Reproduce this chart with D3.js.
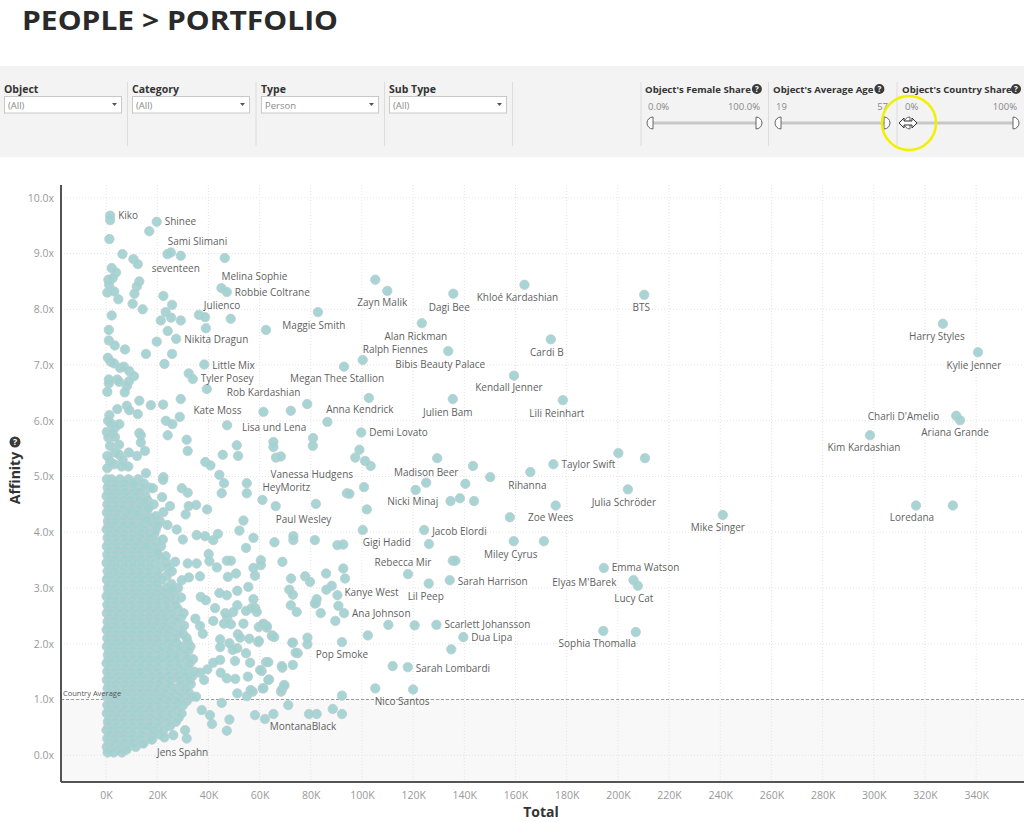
<!DOCTYPE html>
<html>
<head>
<meta charset="utf-8">
<script src="https://cdn.jsdelivr.net/npm/d3@7"></script>
<style>
  body { margin: 0; background: #fff; }
  text { font-family: "Segoe UI", "Open Sans", "DejaVu Sans", sans-serif; }
</style>
</head>
<body>
<svg width="1024" height="822"></svg>
<script>
const svg = d3.select("svg");
const width = +svg.attr("width");

// ---- data ----
const pageTitle = "PEOPLE > PORTFOLIO";
const slicerTitles = ["Object", "Category", "Type", "Sub Type"];
const slicerValues = ["(All)", "(All)", "Person", "(All)"];
const rangeTitles = ["Object's Female Share", "Object's Average Age", "Object's Country Share"];
const rangeMin = ["0.0%", "19", "0%"];
const rangeMax = ["100.0%", "57", "100%"];

const xTicks = d3.range(0, 341, 20);          // Total, in K
const yTicks = d3.range(0, 11, 1);            // Affinity
const countryAverage = 1.0;

// labelled people: [name, total (K), affinity]
const labeled = [
  ["Kiko", 1.6, 9.68], ["Shinee", 19.8, 9.57], ["Sami Slimani", 25.3, 9.02], ["seventeen", 29.2, 8.96],
  ["Melina Sophie", 45.1, 8.38], ["Robbie Coltrane", 47.2, 8.31], ["Julienco", 38.7, 7.86],
  ["Maggie Smith", 82.8, 7.95], ["Nikita Dragun", 27.4, 7.47], ["Little Mix", 38.4, 7.01],
  ["Tyler Posey", 33.9, 6.75], ["Rob Kardashian", 39.4, 6.57], ["Kate Moss", 61.5, 6.16],
  ["Lisa und Lena", 47.3, 5.92], ["Zayn Malik", 109.9, 8.33], ["Dagi Bee", 135.7, 8.28],
  ["Khloé Kardashian", 163.5, 8.44], ["Alan Rickman", 123.4, 7.75], ["Cardi B", 173.8, 7.46],
  ["Ralph Fiennes", 100.3, 7.09], ["Bibis Beauty Palace", 133.7, 7.25], ["Megan Thee Stallion", 93.0, 6.97],
  ["Kendall Jenner", 159.4, 6.81], ["Julien Bam", 135.5, 6.39], ["Anna Kendrick", 102.7, 6.41],
  ["Lili Reinhart", 178.5, 6.37], ["Demi Lovato", 99.7, 5.79], ["Taylor Swift", 174.8, 5.22],
  ["BTS", 210.3, 8.26], ["Harry Styles", 327.0, 7.74], ["Kylie Jenner", 340.7, 7.23],
  ["Charli D'Amelio", 332.2, 6.09], ["Ariana Grande", 333.7, 6.01], ["Kim Kardashian", 298.5, 5.74],
  ["Vanessa Hudgens", 80.8, 5.55], ["HeyMoritz", 61.1, 4.58], ["Paul Wesley", 66.3, 4.47],
  ["Madison Beer", 125.1, 4.89], ["Nicki Minaj", 121.0, 4.76], ["Rihanna", 165.8, 5.08],
  ["Julia Schröder", 203.9, 4.77], ["Zoe Wees", 175.7, 4.48], ["Jacob Elordi", 124.3, 4.04],
  ["Gigi Hadid", 100.3, 4.04], ["Miley Cyrus", 159.3, 3.84], ["Rebecca Mir", 118.0, 3.25],
  ["Emma Watson", 194.5, 3.36], ["Elyas M'Barek", 206.1, 3.14], ["Lucy Cat", 207.8, 3.04],
  ["Sarah Harrison", 134.3, 3.14], ["Lil Peep", 126.1, 3.08], ["Kanye West", 86.1, 2.97],
  ["Ana Johnson", 93.0, 2.55], ["Scarlett Johansson", 129.1, 2.34], ["Dua Lipa", 139.6, 2.12],
  ["Mike Singer", 241.0, 4.31], ["Loredana", 316.5, 4.48], ["Sophia Thomalla", 194.3, 2.23],
  ["Pop Smoke", 92.2, 2.03], ["Sarah Lombardi", 117.9, 1.58], ["Nico Santos", 120.0, 1.18],
  ["MontanaBlack", 79.3, 0.74], ["Jens Spahn", 31.5, 0.30]
];

// other people: [total (K), affinity]
const others = [
  [1.6, 9.60], [1.3, 9.26], [16.9, 9.40], [6.4, 8.99], [10.7, 8.90], [12.4, 8.81], [2.2, 8.74], [3.9, 8.66],
  [0.9, 8.53], [2.6, 8.56], [1.2, 8.44], [13.0, 8.50], [12.0, 8.41], [0.5, 8.30], [3.2, 8.32], [11.1, 8.28],
  [4.8, 8.18], [10.4, 8.10], [14.3, 8.00], [22.4, 8.24], [25.8, 8.08], [23.3, 7.95], [21.4, 7.80], [25.4, 7.85],
  [29.2, 7.80], [36.3, 7.90], [48.7, 7.83], [39.0, 7.66], [24.0, 8.99], [46.4, 8.92], [2.2, 7.89], [1.1, 7.63],
  [24.1, 7.61], [19.8, 7.42], [1.1, 7.44], [3.4, 7.35], [7.4, 7.28], [15.6, 7.20], [25.8, 7.20], [22.8, 7.02],
  [0.7, 7.13], [1.8, 7.06], [3.1, 7.03], [5.5, 6.95], [7.0, 6.97], [9.1, 6.89], [10.9, 6.80], [9.0, 6.71],
  [8.1, 6.62], [1.1, 6.74], [1.1, 6.67], [4.4, 6.74], [5.1, 6.70], [0.5, 6.52], [7.3, 6.51], [32.3, 6.85],
  [29.2, 6.39], [22.3, 6.29], [17.5, 6.28], [13.0, 6.36], [8.1, 6.27], [9.1, 6.19], [12.4, 6.12], [4.4, 6.21],
  [1.3, 6.10], [0.8, 6.00], [2.0, 5.95], [5.2, 5.94], [3.5, 5.88], [0.3, 5.80], [2.5, 5.78], [0.9, 5.70],
  [3.5, 5.71], [23.4, 6.00], [25.9, 5.94], [28.8, 6.07], [24.1, 5.74], [13.0, 5.78], [13.6, 5.74], [13.6, 5.61],
  [5.1, 5.57], [1.6, 5.55], [0.5, 5.37], [3.5, 5.43], [5.2, 5.39], [8.9, 5.43], [12.1, 5.37], [15.2, 5.46],
  [1.6, 5.27], [3.2, 5.22], [6.5, 5.30], [6.1, 5.18], [8.7, 5.18], [0.5, 5.15], [31.5, 5.66], [31.9, 5.46],
  [38.8, 5.26], [40.8, 5.20], [44.3, 5.03], [15.6, 5.06], [22.4, 4.99], [45.6, 5.39], [51.1, 5.56], [51.6, 5.37],
  [62.5, 7.63], [105.2, 8.53], [72.2, 6.18], [78.6, 6.30], [86.5, 5.98], [65.4, 5.62], [65.4, 5.53], [66.4, 5.34],
  [68.3, 5.36], [80.9, 5.69], [99.0, 5.48], [97.4, 5.34], [101.2, 5.28], [103.4, 5.19], [129.4, 5.33],
  [143.4, 5.19], [200.2, 5.42], [210.6, 5.33], [94.1, 4.70], [95.1, 4.69], [100.8, 4.81], [82.0, 4.51],
  [101.9, 4.41], [134.6, 4.56], [138.3, 4.61], [143.8, 4.56], [140.4, 4.87], [150.1, 4.99], [157.8, 4.27],
  [126.2, 3.79], [171.1, 3.84], [90.4, 3.77], [92.7, 3.78], [81.6, 3.86], [73.2, 3.86], [65.8, 3.82],
  [57.6, 3.90], [135.5, 3.49], [136.5, 3.49], [90.4, 2.87], [110.3, 2.34], [120.6, 2.33], [207.0, 2.21],
  [134.9, 1.90], [112.0, 1.60], [105.2, 1.20], [82.3, 0.74], [88.6, 0.83], [92.2, 0.74], [65.4, 0.74],
  [62.1, 0.65], [58.2, 0.72], [71.2, 0.90], [92.2, 1.07], [330.9, 4.48],
  [72.2, 2.69], [74.5, 2.57], [82.0, 2.73], [83.9, 2.55], [90.8, 2.68], [89.6, 2.41], [102.3, 2.15],
  [59.7, 2.30], [61.5, 2.36], [62.8, 2.29], [64.8, 2.14], [59.5, 2.03], [73.0, 2.02], [78.7, 2.11],
  [78.7, 1.99], [74.9, 1.83], [73.0, 1.62], [68.9, 1.57], [62.5, 1.67], [60.8, 1.51], [63.7, 1.36],
  [69.7, 1.25], [68.4, 1.14], [61.5, 1.20], [57.3, 1.14], [73.2, 3.93], [72.3, 3.17], [77.8, 3.21],
  [79.7, 3.11], [86.0, 3.26], [88.2, 3.04], [92.7, 3.35], [93.4, 3.17], [71.6, 2.97], [73.0, 2.88],
  [82.3, 2.80], [81.6, 2.72],
  [10.7, 4.87], [18.3, 4.79], [22.3, 4.94], [29.6, 4.79], [31.9, 4.71], [45.2, 4.70], [46.1, 4.88],
  [55.0, 4.88], [55.0, 4.70], [15.0, 4.55], [21.9, 4.63], [25.0, 4.47], [16.5, 4.43], [9.4, 4.39],
  [12.2, 4.34], [15.9, 4.23], [19.5, 4.29], [22.4, 4.36], [31.1, 4.32], [32.3, 4.47], [35.2, 4.49],
  [39.5, 4.41], [53.7, 4.21], [52.1, 4.03], [43.7, 3.97], [41.9, 3.86], [38.7, 3.93], [35.4, 3.95],
  [30.0, 3.87], [27.6, 4.05], [24.0, 4.13], [22.2, 3.87], [54.7, 3.72], [68.9, 3.47], [60.5, 3.50],
  [60.5, 3.41], [57.6, 3.36], [58.2, 3.22], [50.8, 3.26], [47.6, 3.20], [47.2, 3.49], [48.8, 3.49],
  [43.3, 3.37], [40.1, 3.61], [40.4, 3.48], [35.4, 3.44], [31.9, 3.44], [27.0, 3.47], [23.3, 3.57],
  [19.8, 3.65], [15.9, 3.75], [36.7, 3.21], [32.4, 3.19], [29.6, 3.14], [25.9, 2.99], [29.3, 2.83],
  [37.0, 2.84], [39.0, 2.78], [42.6, 2.64], [41.9, 2.41], [36.7, 2.32], [34.9, 2.45], [37.8, 2.18],
  [44.3, 2.91], [47.2, 2.87], [51.3, 2.95], [55.6, 3.02], [57.6, 2.80], [58.3, 2.64], [58.9, 2.57],
  [56.9, 2.64], [54.7, 2.59], [51.3, 2.69], [49.7, 2.57], [46.6, 2.55], [47.4, 2.48], [46.1, 2.36],
  [48.8, 2.35], [53.7, 2.36], [51.5, 2.17], [52.4, 2.11], [56.0, 2.09], [59.7, 2.05], [61.5, 2.35],
  [62.8, 2.32], [65.0, 2.15], [65.7, 2.12], [72.8, 2.02], [74.1, 1.84], [68.7, 1.60], [63.4, 1.67],
  [60.2, 1.53], [56.3, 1.66], [54.7, 1.83], [50.4, 1.69], [51.3, 1.92], [49.5, 1.89], [48.2, 2.01],
  [44.6, 2.08], [44.6, 1.94], [44.6, 1.71], [41.9, 1.66], [39.6, 1.54], [36.7, 1.48], [38.3, 1.35],
  [44.8, 1.48], [47.2, 1.38], [50.5, 1.37], [55.4, 1.41], [56.5, 1.17], [55.0, 1.06], [61.2, 1.20],
  [63.4, 1.35], [68.7, 1.18], [69.6, 1.26], [51.3, 1.11], [45.2, 0.94], [48.2, 0.64], [47.2, 0.44],
  [41.4, 0.56], [40.6, 0.72], [37.4, 0.81], [35.2, 1.05], [30.9, 0.45], [26.3, 0.36], [22.8, 0.32],
  [17.9, 0.28], [14.6, 0.21]
];

// the dense core near 0K, read row by row: [affinity, totals (K)]
const coreRows = [
  [4.95, [0.3, 2.1, 5.4, 8.8, 12.6]],
  [4.875, [1.2, 3.9, 7.1, 10.6, 14.8]],
  [4.80, [0.6, 3.3, 6.7, 10.1, 13.9, 17.0]],
  [4.725, [1.0, 4.1, 7.3, 10.9, 13.0]],
  [4.65, [0.2, 2.0, 5.2, 8.5, 11.8, 15.4]],
  [4.575, [1.4, 3.8, 7.0, 9.6, 12.9, 16.2]],
  [4.50, [0.5, 3.6, 6.9, 10.4, 13.7, 18.6]],
  [4.425, [1.1, 4.2, 6.6, 9.8, 13.1, 16.4]],
  [4.35, [0.3, 2.2, 5.0, 8.1, 11.5, 14.8]],
  [4.275, [1.3, 4.0, 7.4, 10.7, 14.0, 16.9]],
  [4.20, [0.7, 3.5, 6.6, 9.9, 13.2, 17.9, 21.0]],
  [4.125, [1.0, 3.7, 7.0, 10.3, 13.8, 17.0, 20.1]],
  [4.05, [0.2, 1.9, 5.3, 8.6, 11.9, 15.1, 19.4]],
  [3.975, [1.4, 4.1, 7.2, 10.5, 13.9, 16.8, 18.9]],
  [3.90, [0.6, 3.4, 6.8, 10.2, 13.6, 17.2]],
  [3.825, [1.1, 3.9, 7.5, 9.9, 12.8, 16.1, 19.7]],
  [3.75, [0.3, 2.1, 5.1, 8.4, 11.7, 14.9, 18.3, 21.5]],
  [3.675, [1.3, 4.3, 7.1, 10.6, 13.9, 17.6, 20.0]],
  [3.60, [0.5, 3.7, 6.9, 10.0, 13.3, 16.8, 20.2]],
  [3.525, [1.0, 3.8, 7.2, 10.4, 14.1, 17.2, 21.3]],
  [3.45, [0.2, 2.0, 5.4, 8.7, 12.0, 15.3, 18.7, 23.5]],
  [3.375, [1.4, 4.0, 7.3, 10.5, 13.7, 17.0, 21.4, 24.2]],
  [3.30, [0.6, 3.3, 6.6, 9.8, 13.1, 16.5, 19.9, 25.7]],
  [3.225, [1.1, 4.2, 6.9, 10.3, 13.6, 16.9, 20.3, 23.8]],
  [3.15, [0.3, 2.2, 5.2, 8.5, 11.8, 15.0, 18.4, 21.8]],
  [3.075, [1.3, 3.9, 7.1, 10.6, 13.9, 17.3, 19.8, 25.5]],
  [3.00, [0.7, 3.6, 6.8, 10.1, 13.4, 16.7, 20.1, 23.6, 28.2]],
  [2.925, [1.0, 4.1, 7.4, 10.7, 13.0, 16.2, 19.5, 22.9, 26.4]],
  [2.85, [0.2, 1.9, 5.0, 8.3, 11.6, 14.9, 18.2, 21.6, 25.0]],
  [2.775, [1.4, 3.7, 6.9, 10.2, 13.8, 17.1, 20.4, 23.8, 26.9]],
  [2.70, [0.5, 3.4, 6.7, 10.0, 13.2, 16.6, 19.9, 23.3, 27.1]],
  [2.625, [1.1, 4.0, 7.2, 10.4, 13.6, 17.2, 20.5, 24.1, 28.0]],
  [2.55, [0.3, 2.1, 5.3, 8.6, 11.9, 15.2, 18.5, 21.9, 25.4, 30.3]],
  [2.475, [1.3, 4.2, 7.1, 10.5, 13.9, 16.9, 20.0, 23.1, 26.5, 29.3]],
  [2.40, [0.6, 3.5, 6.9, 10.2, 13.5, 16.8, 20.2, 23.7, 27.5]],
  [2.325, [1.0, 3.8, 7.4, 10.6, 14.0, 17.3, 19.6, 22.6, 26.0, 30.5]],
  [2.25, [0.2, 2.0, 5.1, 8.4, 11.7, 15.0, 18.3, 21.7, 25.2, 29.0]],
  [2.175, [1.4, 4.1, 7.0, 10.3, 13.7, 17.0, 20.5, 24.0, 27.8, 30.1]],
  [2.10, [0.5, 3.3, 6.6, 9.9, 13.3, 16.6, 19.9, 23.4, 26.8, 31.5]],
  [2.025, [1.1, 3.9, 7.3, 10.5, 13.6, 17.1, 20.3, 24.1, 27.4, 31.9]],
  [1.95, [0.3, 2.2, 5.4, 8.7, 12.0, 15.3, 18.6, 22.0, 25.5, 29.2, 33.0]],
  [1.875, [1.3, 4.2, 7.1, 10.4, 14.0, 17.4, 21.3, 24.8, 28.6, 32.2]],
  [1.80, [0.7, 3.6, 6.8, 10.1, 13.4, 16.7, 20.0, 23.5, 27.0, 30.8]],
  [1.725, [1.0, 3.7, 7.2, 10.6, 13.8, 17.0, 20.6, 24.3, 27.7, 31.4, 34.0]],
  [1.65, [0.2, 1.9, 5.2, 8.5, 11.8, 15.1, 18.4, 21.8, 25.3, 28.9, 32.7]],
  [1.575, [1.4, 4.0, 7.3, 10.5, 13.5, 16.9, 20.2, 24.7, 28.1, 32.0]],
  [1.50, [0.5, 3.4, 6.7, 10.0, 13.3, 16.6, 19.9, 23.3, 26.7, 30.4, 34.5]],
  [1.425, [1.1, 4.3, 7.1, 10.2, 13.9, 17.6, 21.1, 24.4, 27.9, 31.3, 33.8]],
  [1.35, [0.3, 2.1, 5.3, 8.6, 11.9, 15.2, 18.5, 21.9, 25.4, 28.8, 32.6]],
  [1.275, [1.3, 3.9, 7.4, 10.6, 14.1, 17.2, 20.7, 24.5, 29.6, 33.1]],
  [1.20, [0.6, 3.5, 6.9, 10.2, 13.5, 16.8, 20.1, 23.6, 27.2, 31.0]],
  [1.125, [1.0, 4.1, 7.0, 10.3, 13.7, 16.4, 19.5, 22.8, 26.3, 29.9, 32.3]],
  [1.05, [0.2, 2.0, 5.1, 8.4, 11.7, 15.0, 18.3, 21.7, 25.1, 28.7, 33.5]],
  [0.975, [1.4, 3.8, 7.2, 10.7, 14.0, 17.3, 20.6, 24.4, 27.9, 31.6]],
  [0.90, [0.5, 3.3, 6.6, 9.9, 13.2, 16.5, 19.8, 23.2, 26.8, 30.1]],
  [0.825, [1.1, 4.0, 7.3, 10.5, 13.8, 17.1, 20.9, 24.3, 27.8]],
  [0.75, [0.3, 2.2, 5.4, 8.7, 12.0, 15.3, 18.6, 22.0, 25.6, 29.5]],
  [0.675, [1.3, 4.2, 7.1, 10.4, 13.6, 17.4, 21.2, 24.6, 28.4]],
  [0.60, [0.7, 3.6, 6.8, 10.1, 13.4, 16.7, 20.0, 23.5, 27.3]],
  [0.525, [1.0, 3.9, 7.4, 10.6, 14.0, 17.0, 20.4, 25.0]],
  [0.45, [0.2, 1.9, 5.2, 8.5, 11.8, 15.1, 18.6, 22.4]],
  [0.375, [1.4, 4.1, 7.0, 10.3, 13.9, 18.1, 20.7]],
  [0.30, [0.5, 3.4, 6.7, 10.0, 13.3, 16.9]],
  [0.225, [1.1, 3.8, 7.2, 10.5, 14.2]],
  [0.15, [0.3, 2.1, 5.3, 8.4, 11.6]],
  [0.10, [1.3, 4.2, 8.0]],
  [0.05, [0.6, 3.0, 6.2]]
];

// label placement: [text-anchor, dx, dy] relative to the dot
const labelPlacement = {
  "Kiko": ["start", 8, 0], "Shinee": ["start", 8, 0], "Sami Slimani": ["start", -3, -11],
  "seventeen": ["middle", -5, 13], "Melina Sophie": ["start", 0, -12], "Robbie Coltrane": ["start", 8, 0],
  "Julienco": ["middle", 17, -12], "Maggie Smith": ["middle", -4, 13], "Nikita Dragun": ["start", 8, 1],
  "Little Mix": ["start", 8, 1], "Tyler Posey": ["start", 8, 0], "Rob Kardashian": ["start", 20, 3],
  "Kate Moss": ["end", -22, -1], "Lisa und Lena": ["start", 15, 2], "Zayn Malik": ["middle", -5, 12],
  "Dagi Bee": ["middle", -4, 14], "Khloé Kardashian": ["middle", -7, 13], "Alan Rickman": ["middle", -6, 13],
  "Cardi B": ["middle", -4, 13], "Ralph Fiennes": ["start", 0, -11], "Bibis Beauty Palace": ["middle", -8, 13],
  "Megan Thee Stallion": ["middle", -7, 12], "Kendall Jenner": ["middle", -5, 12], "Julien Bam": ["middle", -5, 13],
  "Anna Kendrick": ["middle", -9, 12], "Lili Reinhart": ["middle", -6, 13], "Demi Lovato": ["start", 8, 0],
  "Taylor Swift": ["start", 8, 0], "BTS": ["middle", -3, 13], "Harry Styles": ["middle", -6, 13],
  "Kylie Jenner": ["middle", -4, 13], "Charli D'Amelio": ["end", -17, 1], "Ariana Grande": ["middle", -5, 12],
  "Kim Kardashian": ["middle", -6, 12], "Vanessa Hudgens": ["middle", -1, 29], "HeyMoritz": ["start", 0, -12],
  "Paul Wesley": ["start", 0, 13], "Madison Beer": ["middle", 0, -10], "Nicki Minaj": ["middle", -3, 12],
  "Rihanna": ["middle", -3, 13], "Julia Schröder": ["middle", -4, 13], "Zoe Wees": ["middle", -5, 12],
  "Jacob Elordi": ["start", 8, 1], "Gigi Hadid": ["start", 0, 12], "Miley Cyrus": ["middle", -3, 13],
  "Rebecca Mir": ["middle", -5, -12], "Emma Watson": ["start", 8, 0], "Elyas M'Barek": ["end", -17, 2],
  "Lucy Cat": ["middle", -4, 13], "Sarah Harrison": ["start", 8, 1], "Lil Peep": ["middle", -3, 13],
  "Kanye West": ["start", 18, 3], "Ana Johnson": ["start", 8, 0], "Scarlett Johansson": ["start", 8, 0],
  "Dua Lipa": ["start", 8, 0], "Mike Singer": ["middle", -5, 13], "Loredana": ["middle", -4, 12],
  "Sophia Thomalla": ["middle", -6, 13], "Pop Smoke": ["middle", 0, 12], "Sarah Lombardi": ["start", 8, 1],
  "Nico Santos": ["middle", -11, 12], "MontanaBlack": ["middle", -6, 13], "Jens Spahn": ["middle", -4, 14]
};

// ---- title ----
svg.append("text")
  .attr("x", 22).attr("y", 30)
  .attr("fill", "#2a2a2a")
  .attr("textLength", 316).attr("lengthAdjust", "spacingAndGlyphs")
  .style("font-size", "27px").style("font-weight", "700")
  .text(pageTitle);

// ---- filter bar ----
svg.append("rect").attr("x", 0).attr("y", 66).attr("width", width).attr("height", 91).attr("fill", "#f3f3f3");

const seps = [127.5, 256, 384.5, 512.5, 641, 768.5, 897];
svg.selectAll(".sep").data(seps).enter().append("line")
  .attr("x1", d => d).attr("x2", d => d).attr("y1", 82).attr("y2", 146)
  .attr("stroke", "#dcdcdc").attr("stroke-width", 1);

const slicerX = [4, 132, 261, 389];
slicerTitles.forEach((t, i) => {
  const sx = slicerX[i];
  svg.append("text").attr("x", sx).attr("y", 93).attr("fill", "#333")
    .style("font-size", "10.5px").style("font-weight", "700").text(t);
  svg.append("rect").attr("x", sx + 0.5).attr("y", 96.5).attr("width", 117).attr("height", 16.5)
    .attr("fill", "#fff").attr("stroke", "#c8c8c8");
  svg.append("text").attr("x", sx + 4).attr("y", 108.5).attr("fill", "#8a8a8a")
    .style("font-size", "9.5px").text(slicerValues[i]);
  svg.append("path").attr("d", `M${sx + 108},${103} l5,0 l-2.5,3 z`).attr("fill", "#555");
});

function helpIcon(cx, cy, r) {
  svg.append("circle").attr("cx", cx).attr("cy", cy).attr("r", r).attr("fill", "#3a3a3a");
  svg.append("text").attr("x", cx).attr("y", cy + r * 0.6).attr("text-anchor", "middle")
    .attr("fill", "#fff").style("font-size", (r * 1.6) + "px").style("font-weight", "700").text("?");
}

const rangeX = [645, 773, 902];
rangeTitles.forEach((t, i) => {
  const rx = rangeX[i];
  const t0 = svg.append("text").attr("x", rx).attr("y", 93).attr("fill", "#333")
    .style("font-size", "9.6px").style("font-weight", "700").text(t);
  const tw = t0.node().getComputedTextLength();
  helpIcon(Math.min(rx + tw + 6, 1016), 89, 5);
  svg.append("text").attr("x", rx + 3).attr("y", 110).attr("fill", "#888")
    .style("font-size", "9.5px").text(rangeMin[i]);
  svg.append("text").attr("x", rx + 115).attr("y", 110).attr("text-anchor", "end").attr("fill", "#888")
    .style("font-size", "9.5px").text(rangeMax[i]);
  const a = rx + 6, b = rx + 113, cy = 123;
  svg.append("line").attr("x1", a).attr("x2", b).attr("y1", cy).attr("y2", cy)
    .attr("stroke", "#c8c8c8").attr("stroke-width", 3);
  svg.append("path").attr("d", `M${a + 2},${cy - 6} A6,6 0 0 0 ${a + 2},${cy + 6} Z`)
    .attr("fill", "#fff").attr("stroke", "#666");
  svg.append("path").attr("d", `M${b - 2},${cy - 6} A6,6 0 0 1 ${b - 2},${cy + 6} Z`)
    .attr("fill", "#fff").attr("stroke", "#666");
});

// cursor on the country share slider and the yellow highlight ring
svg.append("path")
  .attr("transform", "translate(908,123)")
  .attr("d", "M-9,0 L-4,-5 L-4,-2 L4,-2 L4,-5 L9,0 L4,5 L4,2 L-4,2 L-4,5 Z")
  .attr("fill", "#fff").attr("stroke", "#333").attr("stroke-width", 1);
svg.append("circle").attr("cx", 909).attr("cy", 123).attr("r", 27)
  .attr("fill", "none").attr("stroke", "#f1f000").attr("stroke-width", 2.5);

// ---- scatter ----
const plot = {left: 61, right: 1024, top: 185, bottom: 782};
const x = d3.scaleLinear().domain([-17.6, 358.7]).range([plot.left, plot.right]);
const y = d3.scaleLinear().domain([-0.48, 10.23]).range([plot.bottom, plot.top]);

const g = svg.append("g");

// shaded area under the country average
g.append("rect")
  .attr("x", plot.left).attr("y", y(countryAverage))
  .attr("width", plot.right - plot.left).attr("height", plot.bottom - y(countryAverage))
  .attr("fill", "#f8f8f8");

// grid
g.selectAll(".vgrid").data(xTicks).enter().append("line")
  .attr("x1", d => x(d)).attr("x2", d => x(d)).attr("y1", plot.top).attr("y2", plot.bottom)
  .attr("stroke", "#e4e4e4").attr("stroke-dasharray", "1,2");
g.selectAll(".hgrid").data(yTicks).enter().append("line")
  .attr("x1", plot.left).attr("x2", plot.right).attr("y1", d => y(d)).attr("y2", d => y(d))
  .attr("stroke", "#e4e4e4").attr("stroke-dasharray", "1,2");

// country average reference line
g.append("line")
  .attr("x1", plot.left).attr("x2", plot.right)
  .attr("y1", y(countryAverage)).attr("y2", y(countryAverage))
  .attr("stroke", "#9a9a9a").attr("stroke-dasharray", "3,2");

// points
const coreData = [];
coreRows.forEach(([aff, totals]) => totals.forEach(t => coreData.push([t, aff])));
const allPoints = coreData.concat(others).concat(labeled.map(d => [d[1], d[2]]));

g.selectAll(".point").data(allPoints).enter().append("circle")
  .attr("class", "point")
  .attr("cx", d => x(d[0])).attr("cy", d => y(d[1]))
  .attr("r", 4.7)
  .attr("fill", "#9fd1d1").attr("fill-opacity", 0.92)
  .attr("stroke", "#bfcccc").attr("stroke-width", 0.8);

g.append("text").attr("x", plot.left + 2).attr("y", y(countryAverage) - 4)
  .attr("fill", "#555").style("font-size", "7.5px").text("Country Average");

// labels
g.selectAll(".plabel").data(labeled).enter().append("text")
  .attr("class", "plabel")
  .attr("x", d => x(d[1]) + labelPlacement[d[0]][1])
  .attr("y", d => y(d[2]) + labelPlacement[d[0]][2])
  .attr("dy", "0.35em")
  .attr("text-anchor", d => labelPlacement[d[0]][0])
  .attr("fill", "#5f5f5f")
  .style("font-size", "10px")
  .text(d => d[0]);

// axes
const xAxis = d3.axisBottom(x).tickValues(xTicks).tickSize(0).tickPadding(10).tickFormat(d => d + "K");
const yAxis = d3.axisLeft(y).tickValues(yTicks).tickSize(0).tickPadding(7).tickFormat(d => d.toFixed(1) + "x");

const xg = svg.append("g").attr("transform", `translate(0,${plot.bottom})`).call(xAxis);
const yg = svg.append("g").attr("transform", `translate(${plot.left},0)`).call(yAxis);
[xg, yg].forEach(a => {
  a.select(".domain").remove();
  a.selectAll("text").attr("fill", "#999").style("font-size", "10.5px")
    .style("font-family", '"Segoe UI", "Open Sans", sans-serif');
});

svg.append("line").attr("x1", plot.left).attr("x2", plot.right).attr("y1", plot.bottom).attr("y2", plot.bottom)
  .attr("stroke", "#555").attr("stroke-width", 2);
svg.append("line").attr("x1", plot.left).attr("x2", plot.left).attr("y1", plot.top).attr("y2", plot.bottom)
  .attr("stroke", "#555").attr("stroke-width", 2);

// axis titles
svg.append("text").attr("x", 541).attr("y", 817).attr("text-anchor", "middle")
  .attr("fill", "#333").style("font-size", "14px").style("font-weight", "700").text("Total");
svg.append("text").attr("transform", "translate(20,478) rotate(-90)").attr("text-anchor", "middle")
  .attr("fill", "#333").style("font-size", "14px").style("font-weight", "700").text("Affinity");
helpIcon(15, 442, 5.5);
</script>
</body>
</html>
